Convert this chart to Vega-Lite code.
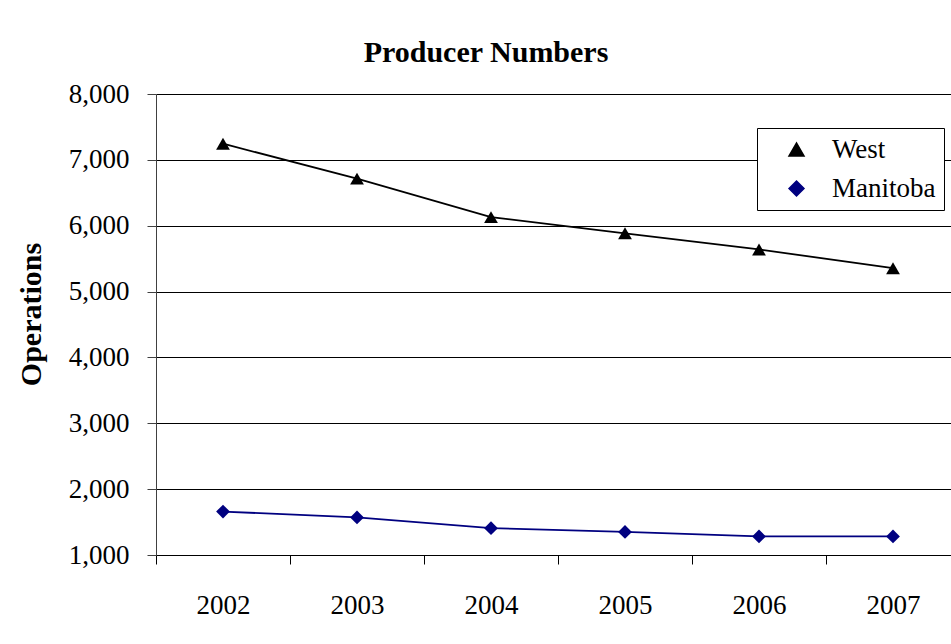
{
  "$schema": "https://vega.github.io/schema/vega-lite/v6.json",
  "autosize": {"type": "none"},
  "padding": {"left": 156, "top": 94, "right": 0, "bottom": 89},
  "width": 804,
  "height": 461,
  "background": "white",
  "title": {
    "text": "Producer Numbers",
    "font": "Liberation Serif",
    "fontSize": 30,
    "fontWeight": "bold",
    "color": "black",
    "anchor": "middle",
    "dx": -72,
    "dy": 43,
    "baseline": "alphabetic",
    "offset": 31
  },
  "data": {
    "values": [
      {"year": "2002", "series": "West", "value": 7245},
      {"year": "2003", "series": "West", "value": 6715},
      {"year": "2004", "series": "West", "value": 6130},
      {"year": "2005", "series": "West", "value": 5885},
      {"year": "2006", "series": "West", "value": 5640},
      {"year": "2007", "series": "West", "value": 5355},
      {"year": "2002", "series": "Manitoba", "value": 1660},
      {"year": "2003", "series": "Manitoba", "value": 1570},
      {"year": "2004", "series": "Manitoba", "value": 1408},
      {"year": "2005", "series": "Manitoba", "value": 1350},
      {"year": "2006", "series": "Manitoba", "value": 1282},
      {"year": "2007", "series": "Manitoba", "value": 1282}
    ]
  },
  "encoding": {
    "x": {
      "field": "year",
      "type": "ordinal",
      "scale": {"type": "band", "paddingInner": 0, "paddingOuter": 0},
      "axis": {
        "title": null,
        "labelAngle": 0,
        "tickBand": "extent",
        "grid": false,
        "domainColor": "#000000",
        "tickColor": "#000000",
        "tickSize": 9,
        "labelFont": "Liberation Serif",
        "labelFontSize": 27,
        "labelColor": "black",
        "labelPadding": 28
      }
    },
    "y": {
      "field": "value",
      "type": "quantitative",
      "scale": {"domain": [1000, 8000], "nice": false, "zero": false},
      "axis": {
        "title": "Operations",
        "titleFont": "Liberation Serif",
        "titleFontSize": 30,
        "titleFontWeight": "bold",
        "titleColor": "black",
        "titlePadding": 22,
        "titleY": 220,
        "values": [1000, 2000, 3000, 4000, 5000, 6000, 7000, 8000],
        "format": ",d",
        "grid": true,
        "gridColor": "#000000",
        "gridWidth": 1,
        "domainColor": "#404040",
        "tickColor": "#404040",
        "tickSize": 9,
        "labelFont": "Liberation Serif",
        "labelFontSize": 27,
        "labelColor": "black",
        "labelPadding": 18
      }
    },
    "color": {
      "field": "series",
      "type": "nominal",
      "scale": {"domain": ["West", "Manitoba"], "range": ["#000000", "#000080"]},
      "legend": {
        "title": null,
        "orient": "none",
        "legendX": 601,
        "legendY": 34,
        "fillColor": "white",
        "strokeColor": "#000000",
        "padding": 8,
        "symbolSize": 220,
        "symbolStrokeWidth": 1.6,
        "symbolOffset": 18,
        "labelOffset": 22,
        "rowPadding": 11,
        "labelFont": "Liberation Serif",
        "labelFontSize": 27,
        "labelColor": "black"
      }
    }
  },
  "layer": [
    {
      "mark": {"type": "line", "strokeWidth": 1.8}
    },
    {
      "mark": {"type": "point", "filled": true, "opacity": 1, "size": 190},
      "encoding": {
        "shape": {
          "field": "series",
          "type": "nominal",
          "scale": {"domain": ["West", "Manitoba"], "range": ["triangle-up", "diamond"]},
          "legend": null
        }
      }
    }
  ],
  "config": {
    "view": {"stroke": null},
    "font": "Liberation Serif"
  }
}
